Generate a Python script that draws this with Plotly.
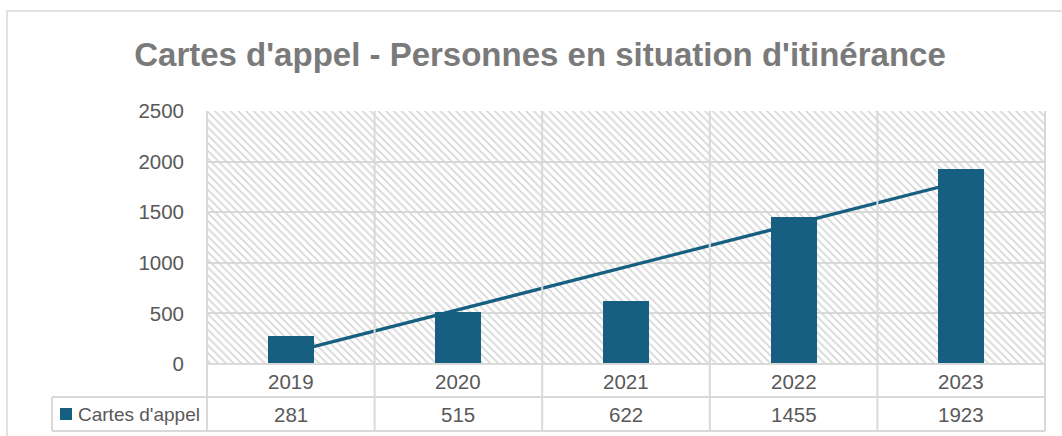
import numpy as np
import plotly.graph_objects as go

# ---- data ----
years = ["2019", "2020", "2021", "2022", "2023"]
values = [281, 515, 622, 1455, 1923]
series_name = "Cartes d'appel"
title_text = "Cartes d'appel - Personnes en situation d'itinérance"
y_ticks = [0, 500, 1000, 1500, 2000, 2500]

Y_MAX = 2500
BAR_COLOR = "#165F81"
GRID = "#D9D9D9"
TXT = "#595959"
FONT = "Liberation Sans, Arial, sans-serif"

W, H = 1062, 436
PL, PR, PT, PB = 207, 1045, 111, 364  # plot area pixels
pw, ph = PR - PL, PB - PT


def px(x):
    return (x - PL) / pw


def py(y):
    return (PB - y) / ph


xs = np.arange(len(years))
coef = np.polyfit(xs + 1, values, 1)
trend = np.polyval(coef, xs + 1)

fig = go.Figure()
# hatched plot-area background (decoration)
fig.add_trace(go.Bar(
    x=xs, y=[Y_MAX] * len(xs), width=1, hoverinfo="skip", showlegend=False,
    marker=dict(color="rgba(0,0,0,0)", line=dict(width=0),
                pattern=dict(shape="\\", fgcolor="#D6D6D6", bgcolor="rgba(0,0,0,0)",
                             size=5.5, solidity=0.3, fillmode="replace")),
))
fig.add_trace(go.Bar(
    x=xs, y=values, width=0.275, name=series_name, showlegend=False,
    marker=dict(color=BAR_COLOR, line=dict(width=0)),
))
fig.add_trace(go.Scatter(
    x=xs, y=trend, mode="lines", showlegend=False,
    line=dict(color=BAR_COLOR, width=3.2),
))

shapes = []
# outer chart border
shapes.append(dict(type="rect", xref="paper", yref="paper",
                   x0=px(7), x1=px(W + 20), y0=py(H + 20), y1=py(11),
                   line=dict(color=GRID, width=1.5), fillcolor="rgba(0,0,0,0)", layer="below"))
# vertical grid / table lines
for i in range(len(years) + 1):
    xp = px(PL + i * pw / len(years))
    shapes.append(dict(type="line", xref="paper", yref="paper", x0=xp, x1=xp,
                       y0=py(431), y1=py(PT), line=dict(color=GRID, width=2), layer="above"))
shapes.append(dict(type="line", xref="paper", yref="paper", x0=px(52), x1=px(52),
                   y0=py(431), y1=py(397), line=dict(color=GRID, width=2)))
# horizontal table lines
shapes.append(dict(type="line", xref="paper", yref="paper", x0=px(PL), x1=px(PR),
                   y0=py(PB), y1=py(PB), line=dict(color=GRID, width=2)))
for yy in (397, 431):
    shapes.append(dict(type="line", xref="paper", yref="paper", x0=px(52), x1=px(PR),
                       y0=py(yy), y1=py(yy), line=dict(color=GRID, width=2)))
# legend key
shapes.append(dict(type="rect", xref="paper", yref="paper", x0=px(60), x1=px(72),
                   y0=py(420), y1=py(408), fillcolor=BAR_COLOR, line=dict(width=0)))

num_font = dict(family=FONT, size=20.5, color=TXT)
annotations = []
for i, (yr, v) in enumerate(zip(years, values)):
    annotations.append(dict(x=i, xref="x", y=py(381), yref="paper", text=yr,
                            xanchor="center", yanchor="middle",
                            showarrow=False, font=num_font))
    annotations.append(dict(x=i, xref="x", y=py(414), yref="paper", text=str(v),
                            xanchor="center", yanchor="middle",
                            showarrow=False, font=num_font))
annotations.append(dict(x=px(76), xref="paper", y=py(414), yref="paper", text=series_name,
                        xanchor="left", yanchor="middle", showarrow=False,
                        font=dict(family=FONT, size=19, color=TXT)))

fig.update_layout(
    width=W, height=H,
    margin=dict(l=PL, r=W - PR, t=PT, b=H - PB),
    paper_bgcolor="white", plot_bgcolor="white",
    barmode="overlay", bargap=0,
    title=dict(text=title_text, x=540 / W, xanchor="center", xref="container",
               y=1 - 54 / H, yanchor="middle", yref="container",
               font=dict(family=FONT, size=33, color="#7A7A7A", weight="bold")),
    xaxis=dict(range=[-0.5, len(years) - 0.5], showticklabels=False, showgrid=False,
               zeroline=False, showline=False, fixedrange=True),
    yaxis=dict(range=[0, Y_MAX], tickvals=y_ticks, showgrid=True, gridcolor=GRID, gridwidth=2,
               zeroline=False, showline=False, ticks="", ticklabelstandoff=22,
               tickfont=num_font),
    shapes=shapes, annotations=annotations,
)

fig.write_html("out.html", config={"displayModeBar": False},
               post_script="document.body.style.margin='0px';")
